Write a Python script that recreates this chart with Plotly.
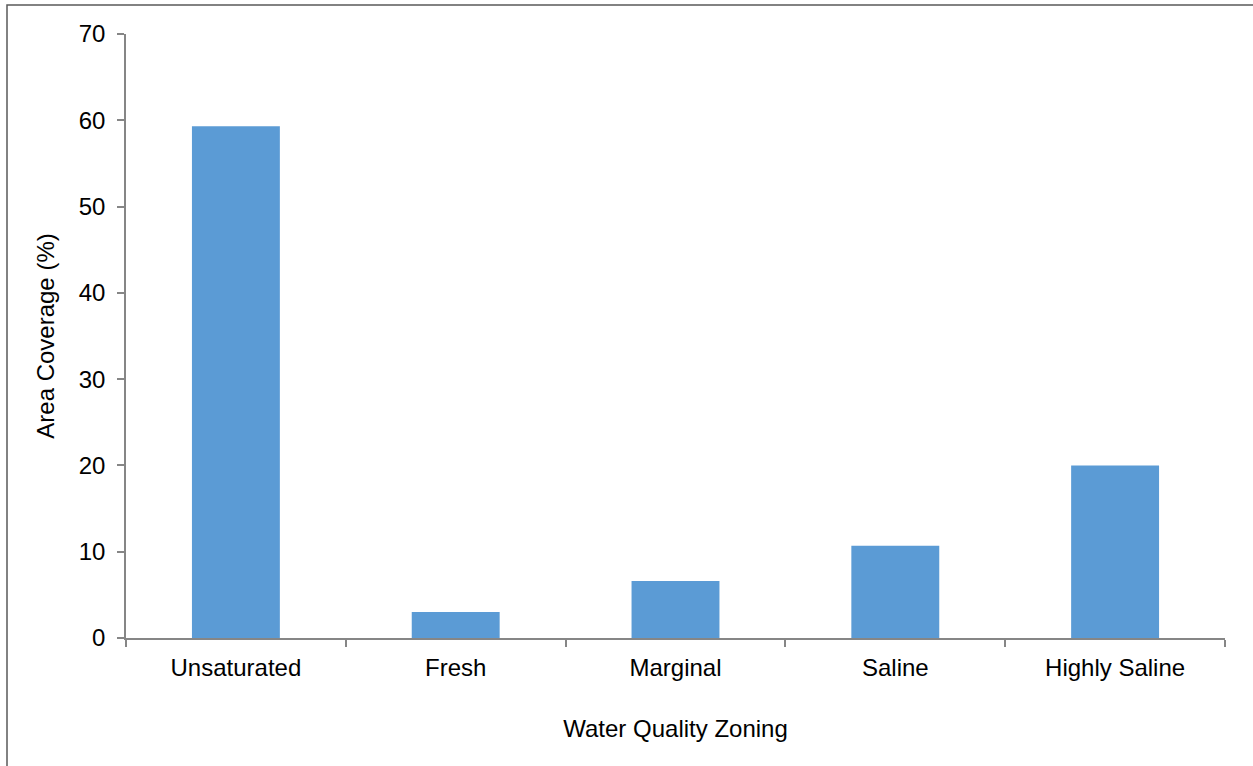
import plotly.graph_objects as go

# Share of area in each groundwater quality zone
zones = ["Unsaturated", "Fresh", "Marginal", "Saline", "Highly Saline"]
coverage = [59.3, 3.0, 6.6, 10.7, 20.0]

y_ticks = [0, 10, 20, 30, 40, 50, 60, 70]

axis_grey = "#868686"
font_family = "Liberation Sans, Arial, sans-serif"
text_font = dict(family=font_family, size=24, color="black")

fig = go.Figure(
    go.Bar(
        x=zones,
        y=coverage,
        marker=dict(color="#5B9BD5", line=dict(width=0)),
        width=0.4,
    )
)

fig.update_layout(
    width=1253,
    height=766,
    margin=dict(l=126, r=28, t=34, b=128),
    paper_bgcolor="white",
    plot_bgcolor="white",
    showlegend=False,
    font=text_font,
    shapes=[
        # chart-area frame
        dict(
            type="rect",
            xref="paper",
            yref="paper",
            x0=(7 - 126) / 1099,
            x1=1.2,
            y0=-0.5,
            y1=(638 - 5) / 604,
            line=dict(color="#5a5a5a", width=1.5),
            fillcolor="rgba(0,0,0,0)",
            layer="below",
        )
    ],
)

fig.update_xaxes(
    title=dict(text="Water Quality Zoning", standoff=41, font=text_font),
    tickfont=text_font,
    showline=True,
    linecolor=axis_grey,
    linewidth=1.5,
    ticks="outside",
    tickson="boundaries",
    ticklen=7,
    tickcolor=axis_grey,
    tickwidth=1.5,
    showgrid=False,
    zeroline=False,
    ticklabelstandoff=7,
)

fig.update_yaxes(
    title=dict(text="Area Coverage (%)", standoff=17, font=text_font),
    tickfont=text_font,
    range=[0, 70],
    tickvals=y_ticks,
    showline=True,
    linecolor=axis_grey,
    linewidth=1.5,
    ticks="outside",
    ticklen=7,
    tickcolor=axis_grey,
    tickwidth=1.5,
    showgrid=False,
    zeroline=False,
    ticklabelstandoff=7,
)

fig.write_html("out.html")
